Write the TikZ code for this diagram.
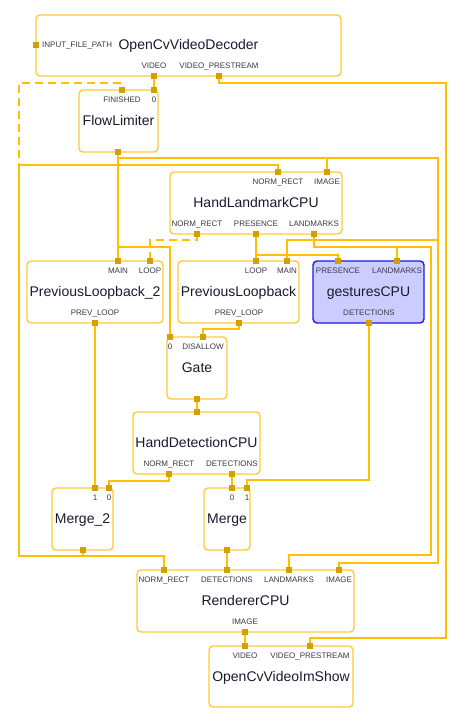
\documentclass[tikz,border=0pt]{standalone}
\usepackage{fontspec}
\setmainfont{Liberation Sans}
\pgfdeclarelayer{bg}
\pgfsetlayers{bg,main}
\definecolor{wirec}{HTML}{FFC000}
\definecolor{portc}{HTML}{D4A000}
\definecolor{boxc}{HTML}{FFCA3A}
\definecolor{gesfill}{HTML}{CCCCFF}
\definecolor{gesline}{HTML}{1A1AE6}
\definecolor{namec}{HTML}{1A1A2E}
\definecolor{labc}{HTML}{3A3A4A}
\tikzset{
  box/.style={draw=boxc, line width=1.4pt, rounded corners=4pt, fill=white, inner sep=0pt},
  gbox/.style={box, draw=gesline, fill=gesfill},
  port/.style={fill=portc, minimum size=5.5pt, inner sep=0pt},
  wire/.style={draw=wirec, line width=2.6pt},
  backwire/.style={wire, dash pattern=on 8pt off 5pt},
  nm/.style={font=\fontsize{14}{16}\selectfont, text=namec, inner sep=0pt, text height=10pt, text depth=0pt},
  pl/.style={font=\fontsize{8}{9}\selectfont, text=labc, inner sep=0pt, text height=5.7pt, text depth=0pt},
}
\begin{document}
\begin{tikzpicture}[x=1pt,y=-1pt]
\useasboundingbox (0,0) rectangle (470,723);
% ---------- boxes ----------
\node[box, minimum width=305pt, minimum height=61pt] (dec) at (188.5,45.5) {};
\node[box, minimum width=79pt, minimum height=62pt] (fl) at (118.5,121) {};
\node[box, minimum width=172pt, minimum height=62pt] (hl) at (256,203) {};
\node[box, minimum width=136pt, minimum height=62pt] (pl2) at (95,292) {};
\node[box, minimum width=121pt, minimum height=62pt] (plb) at (238.5,292) {};
\node[gbox, minimum width=111pt, minimum height=62pt] (ges) at (368.5,292) {};
\node[box, minimum width=60pt, minimum height=62pt] (gate) at (197,368) {};
\node[box, minimum width=127pt, minimum height=62pt] (hd) at (196.5,443) {};
\node[box, minimum width=61pt, minimum height=62pt] (mg2) at (82.5,519) {};
\node[box, minimum width=46pt, minimum height=62pt] (mg) at (227,519) {};
\node[box, minimum width=217pt, minimum height=62pt] (rd) at (245.5,601) {};
\node[box, minimum width=144pt, minimum height=61pt] (sh) at (281,676.5) {};
% ---------- names ----------
\node[nm] (decN) at (188.5,44) {OpenCvVideoDecoder};
\node[nm] (flN) at (118.5,120) {FlowLimiter};
\node[nm] (hlN) at (256,202) {HandLandmarkCPU};
\node[nm] (pl2N) at (95,291.5) {PreviousLoopback\_2};
\node[nm] (plbN) at (238.5,291.5) {PreviousLoopback};
\node[nm] (gesN) at (368.5,291.5) {gesturesCPU};
\node[nm] (gateN) at (197,367) {Gate};
\node[nm] (hdN) at (196.5,442) {HandDetectionCPU};
\node[nm] (mg2N) at (82.5,518) {Merge\_2};
\node[nm] (mgN) at (227,518) {Merge};
\node[nm] (rdN) at (245.5,600) {RendererCPU};
\node[nm] (shN) at (281,676) {OpenCvVideoImShow};
% ---------- ports ----------
\node[port] (decIn) at (36,45) {};
\node[port] (decVideo) at (154,76) {};
\node[port] (decPre) at (219,76) {};
\node[port] (flFin) at (122,90) {};
\node[port] (flIn) at (154,90) {};
\node[port] (flOut) at (118,152) {};
\node[port] (hlNormIn) at (278,172) {};
\node[port] (hlImage) at (327,172) {};
\node[port] (hlNormOut) at (197,234) {};
\node[port] (hlPres) at (256,234) {};
\node[port] (hlLand) at (314,234) {};
\node[port] (pl2Main) at (118,261) {};
\node[port] (pl2Loop) at (150,261) {};
\node[port] (pl2Prev) at (95,323) {};
\node[port] (plLoop) at (256,261) {};
\node[port] (plMain) at (287,261) {};
\node[port] (plPrev) at (239,323) {};
\node[port] (gesPres) at (338,261) {};
\node[port] (gesLand) at (397,261) {};
\node[port] (gesDet) at (369,323) {};
\node[port] (gateIn) at (170,337) {};
\node[port] (gateDis) at (203,337) {};
\node[port] (gateOut) at (197,399) {};
\node[port] (hdIn) at (197,412) {};
\node[port] (hdNorm) at (169,474) {};
\node[port] (hdDet) at (232,474) {};
\node[port] (mg2In1) at (95,488) {};
\node[port] (mg2In0) at (109,488) {};
\node[port] (mg2Out) at (83,550) {};
\node[port] (mgIn0) at (232,488) {};
\node[port] (mgIn1) at (247,488) {};
\node[port] (mgOut) at (227,550) {};
\node[port] (rdNorm) at (164,570) {};
\node[port] (rdDet) at (227,570) {};
\node[port] (rdLand) at (289,570) {};
\node[port] (rdImg) at (339,570) {};
\node[port] (rdOut) at (245,632) {};
\node[port] (shVideo) at (245,646) {};
\node[port] (shPre) at (310,646) {};
% ---------- port labels ----------
\node[pl, anchor=west] (lDecIn) at (42,45) {INPUT\_FILE\_PATH};
\node[pl] (lDecVideo) at (154,65.5) {VIDEO};
\node[pl] (lDecPre) at (219,65.5) {VIDEO\_PRESTREAM};
\node[pl] (lFlFin) at (122,100) {FINISHED};
\node[pl] (lFlIn) at (154,100) {0};
\node[pl] (lHlNormIn) at (278,182) {NORM\_RECT};
\node[pl] (lHlImage) at (327,182) {IMAGE};
\node[pl] (lHlNormOut) at (197,223.5) {NORM\_RECT};
\node[pl] (lHlPres) at (256,223.5) {PRESENCE};
\node[pl] (lHlLand) at (314,223.5) {LANDMARKS};
\node[pl] (lPl2Main) at (118,271) {MAIN};
\node[pl] (lPl2Loop) at (150,271) {LOOP};
\node[pl] (lPl2Prev) at (95,312.5) {PREV\_LOOP};
\node[pl] (lPlLoop) at (256,271) {LOOP};
\node[pl] (lPlMain) at (287,271) {MAIN};
\node[pl] (lPlPrev) at (239,312.5) {PREV\_LOOP};
\node[pl] (lGesPres) at (338,271) {PRESENCE};
\node[pl] (lGesLand) at (397,271) {LANDMARKS};
\node[pl] (lGesDet) at (369,312.5) {DETECTIONS};
\node[pl] (lGateIn) at (170,347) {0};
\node[pl] (lGateDis) at (203,347) {DISALLOW};
\node[pl] (lHdNorm) at (169,463.5) {NORM\_RECT};
\node[pl] (lHdDet) at (232,463.5) {DETECTIONS};
\node[pl] (lMg2In1) at (95,498) {1};
\node[pl] (lMg2In0) at (109,498) {0};
\node[pl] (lMgIn0) at (232,498) {0};
\node[pl] (lMgIn1) at (247,498) {1};
\node[pl] (lRdNorm) at (164,580) {NORM\_RECT};
\node[pl] (lRdDet) at (227,580) {DETECTIONS};
\node[pl] (lRdLand) at (289,580) {LANDMARKS};
\node[pl] (lRdImg) at (339,580) {IMAGE};
\node[pl] (lRdOut) at (245,621.5) {IMAGE};
\node[pl] (lShVideo) at (245,656) {VIDEO};
\node[pl] (lShPre) at (310,656) {VIDEO\_PRESTREAM};
% ---------- connectors ----------
\begin{pgfonlayer}{bg}
\fill[white] (0,0) rectangle (470,723);
\draw[backwire] (mg2Out.center) -- (83,556) -| (19,83) -| (flFin.center);
\draw[backwire] (hlNormOut.center) -- (197,240) -| (pl2Loop.center);
\draw[wire] (decVideo.center) -- (flIn.center);
\draw[wire] (decPre.center) -- (219,83) -| (446,638) -| (shPre.center);
\draw[wire] (flOut.center) -- (118,158) -| (hlImage.center);
\draw[wire] (flOut.center) -- (118,158) -| (438,563) -| (rdImg.center);
\draw[wire] (flOut.center) -- (118,158) -| (438,240) -| (plMain.center);
\draw[wire] (flOut.center) -- (pl2Main.center);
\draw[wire] (flOut.center) |- (170,247) -- (gateIn.center);
\draw[wire] (hlPres.center) -- (plLoop.center);
\draw[wire] (hlPres.center) |- (338,255) -- (gesPres.center);
\draw[wire] (hlLand.center) |- (397,247) -- (gesLand.center);
\draw[wire] (hlLand.center) |- (431,247) |- (289,555) -- (rdLand.center);
\draw[wire] (plPrev.center) -- (239,329) -| (gateDis.center);
\draw[wire] (pl2Prev.center) -- (mg2In1.center);
\draw[wire] (gateOut.center) -- (hdIn.center);
\draw[wire] (hdNorm.center) -- (169,481) -| (mg2In0.center);
\draw[wire] (hdDet.center) -- (mgIn0.center);
\draw[wire] (gesDet.center) |- (247,480) -- (mgIn1.center);
\draw[wire] (mgOut.center) -- (rdDet.center);
\draw[wire] (mg2Out.center) -- (83,556) -| (rdNorm.center);
\draw[wire] (mg2Out.center) -- (83,556) -| (19,165) -| (hlNormIn.center);
\draw[wire] (rdOut.center) -- (shVideo.center);
\end{pgfonlayer}
\end{tikzpicture}
\end{document}
